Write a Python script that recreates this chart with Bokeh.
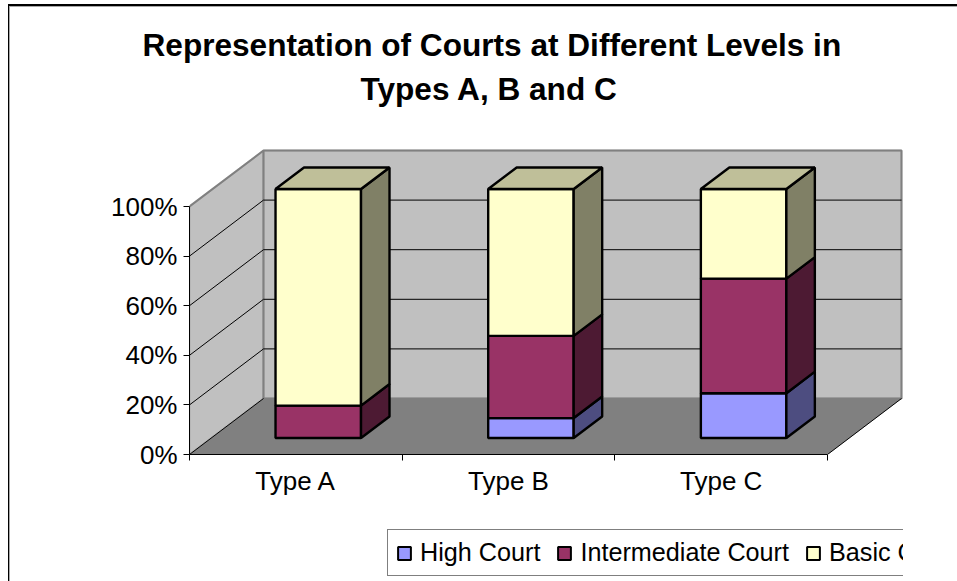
from bokeh.plotting import figure
from bokeh.layouts import column
from bokeh.embed import file_html
from bokeh.resources import INLINE
from bokeh.models import (Range1d, FixedTicker, PrintfTickFormatter, Legend, LegendItem,
                          PolyAnnotation, Title, LinearAxis)

# ---- data -----------------------------------------------------------------
categories = ["Type A", "Type B", "Type C"]
high_court = [0, 8, 18]
intermediate_court = [13, 33, 46]
basic_court = [87, 59, 36]
y_ticks = [0, 20, 40, 60, 80, 100]
title_line_1 = "Representation of Courts at Different Levels in"
title_line_2 = "Types A, B and C"

series_names = ["High Court", "Intermediate Court", "Basic Court"]
series_values = [high_court, intermediate_court, basic_court]
front_colors = ["#9999FF", "#993366", "#FFFFCC"]
side_colors = ["#4D4D80", "#4D1A33", "#808066"]
top_colors = ["#8080C0", "#733350", "#BFBF99"]

# ---- pseudo-3D geometry (in data units) ------------------------------------
PX_PER_CAT = 638 / 3
PX_PER_PCT = 248 / 100
DEPTH_X = 74 / PX_PER_CAT      # oblique shift of full depth, in categories
DEPTH_Y = 56 / PX_PER_PCT      # oblique shift of full depth, in percent
BAR_LEFT = 0.302               # bar start inside its category
BAR_WIDTH = 0.402
BAR_D0 = 16.5 / 56             # front of bar in depth fraction
BAR_D1 = BAR_D0 + 0.385        # back of bar
BAR_SCALE = 1.004
EDGE_PAD = 2                   # spare frame pixels so the wall outline is not clipped


def proj(c, v, d):
    return c + d * DEPTH_X, v + d * DEPTH_Y


def face(points):
    xy = [proj(*pt) for pt in points]
    return [a for a, _ in xy], [b for _, b in xy]


FONT = "Liberation Sans"
LABEL_SIZE = "26px"
BLACK = "#000000"

p = figure(frame_width=712 + EDGE_PAD, frame_height=304 + EDGE_PAD, output_backend="svg", toolbar_location=None,
           x_range=Range1d(0, 3 + DEPTH_X + EDGE_PAD / PX_PER_CAT),
           y_range=Range1d(0, 100 + DEPTH_Y + EDGE_PAD / PX_PER_PCT),
           min_border_left=189, min_border_right=56 - EDGE_PAD, min_border_top=150 - EDGE_PAD, min_border_bottom=50,
           background_fill_color="#FFFFFF", border_fill_color="#FFFFFF")
p.outline_line_color = None
p.grid.visible = False
p.xaxis.visible = False
p.yaxis.visible = False

# chart border: top and left only, as the chart runs off the page
p.stylesheets = [""":host{position:relative;overflow:visible}
:host::before{content:"";position:absolute;left:8px;top:4px;right:0;bottom:0;
border-top:2px solid #000;border-left:1.5px solid #000;box-shadow:inset 1px 1px 0 #A8A8A8;
pointer-events:none;z-index:5}"""]

# ---- walls and floor --------------------------------------------------------
n = len(categories)
wall_pts = [
    [(0, 0, 0), (0, 100, 0), (0, 100, 1), (0, 0, 1)],
    [(0, 0, 1), (0, 100, 1), (n, 100, 1), (n, 0, 1)],
]
for pts in wall_pts:
    xs, ys = face(pts)
    p.add_layout(PolyAnnotation(xs=xs, ys=ys, fill_color="#C0C0C0", fill_alpha=1,
                                line_color="#808080", line_width=2, level="underlay"))
xs, ys = face([(0, 0, 0), (n, 0, 0), (n, 0, 1), (0, 0, 1)])
p.add_layout(PolyAnnotation(xs=xs, ys=ys, fill_color="#808080", fill_alpha=1,
                            line_color="#808080", line_width=1, level="underlay"))

# gray wall outline
ox, oy = face([(0, 100, 0), (0, 100, 1), (n, 100, 1), (n, 0, 1), (0, 0, 1), (0, 100, 1)])
p.line(ox, oy, line_color="#808080", line_width=2)

# gridlines on the two walls
grid_x, grid_y = [], []
for t in y_ticks[1:-1]:
    gx, gy = face([(0, t, 0), (0, t, 1), (n, t, 1)])
    grid_x.append(gx)
    grid_y.append(gy)
p.multi_line(grid_x, grid_y, line_color=BLACK, line_width=1)

# black floor edges
edge_x, edge_y = [], []
for c in (0, n):
    ex, ey = face([(c, 0, 0), (c, 0, 1)])
    edge_x.append(ex)
    edge_y.append(ey)
p.multi_line(edge_x, edge_y, line_color=BLACK, line_width=1)

# ---- stacked 3-D bars -------------------------------------------------------
front_faces = []
for s, vals in enumerate(series_values):
    fx, fy, sx, sy, tx, ty = [], [], [], [], [], []
    for i, v in enumerate(vals):
        if v <= 0:
            continue
        base = sum(series_values[k][i] for k in range(s)) * BAR_SCALE
        top = base + v * BAR_SCALE
        x0 = i + BAR_LEFT
        x1 = x0 + BAR_WIDTH
        a, b = face([(x0, base, BAR_D0), (x1, base, BAR_D0), (x1, top, BAR_D0), (x0, top, BAR_D0)])
        fx.append(a); fy.append(b)
        a, b = face([(x1, base, BAR_D0), (x1, base, BAR_D1), (x1, top, BAR_D1), (x1, top, BAR_D0)])
        sx.append(a); sy.append(b)
        if s == len(series_values) - 1:
            a, b = face([(x0, top, BAR_D0), (x1, top, BAR_D0), (x1, top, BAR_D1), (x0, top, BAR_D1)])
            tx.append(a); ty.append(b)
    p.patches(fx, fy, fill_color=front_colors[s], line_color=BLACK, line_width=2.4)
    front_faces.append((fx, fy))
    p.patches(sx, sy, fill_color=side_colors[s], line_color=BLACK, line_width=2.4)
    if tx:
        p.patches(tx, ty, fill_color=top_colors[s], line_color=BLACK, line_width=2.4)

# ---- axes -------------------------------------------------------------------
yaxis = LinearAxis(ticker=FixedTicker(ticks=y_ticks), formatter=PrintfTickFormatter(format="%d%%"),
                   bounds=(0, 100), major_tick_in=0, major_tick_out=6, minor_tick_in=0, minor_tick_out=0,
                   major_label_standoff=6, major_label_text_font=FONT, major_label_text_font_size=LABEL_SIZE,
                   major_label_text_color=BLACK, axis_line_color=BLACK, major_tick_line_color=BLACK)
p.add_layout(yaxis, "left")

centers = [i + 0.5 for i in range(n)]
xaxis = LinearAxis(ticker=FixedTicker(ticks=centers, minor_ticks=list(range(n + 1))),
                   major_label_overrides={c: name for c, name in zip(centers, categories)},
                   bounds=(0, n), major_tick_in=0, major_tick_out=0, minor_tick_in=0, minor_tick_out=6,
                   major_label_standoff=5, major_label_text_font=FONT, major_label_text_font_size=LABEL_SIZE,
                   major_label_text_color=BLACK, axis_line_color=BLACK, minor_tick_line_color=BLACK)
p.add_layout(xaxis, "below")

# ---- titles -----------------------------------------------------------------
p.add_layout(Title(text=title_line_2, align="left", offset=171, standoff=84, text_font=FONT,
                   text_font_size="31.6px", text_font_style="bold", text_color=BLACK), "above")
p.add_layout(Title(text=title_line_1, align="left", offset=-47, standoff=-72, text_font=FONT,
                   text_font_size="31.6px", text_font_style="bold", text_color=BLACK), "above")

# ---- legend: a strip below the chart, its swatch renderers lie outside the view ----
leg = figure(width=957, height=77, output_backend="svg", toolbar_location=None,
             x_range=Range1d(1000, 1001), y_range=Range1d(1000, 1001),
             x_axis_location=None, y_axis_location=None,
             min_border=0, min_border_left=0, min_border_right=0, min_border_top=0, min_border_bottom=0,
             background_fill_color="#FFFFFF", border_fill_color="#FFFFFF")
leg.outline_line_color = None
leg.grid.visible = False
leg.stylesheets = [""":host{position:relative;overflow:visible}
:host::before{content:"";position:absolute;left:8px;top:0;right:0;bottom:0;
border-left:1.5px solid #000;box-shadow:inset 1px 0 0 #A8A8A8;
pointer-events:none;z-index:5}"""]
swatches = [leg.patches(fx, fy, fill_color=front_colors[s], line_color=BLACK, line_width=2)
            for s, (fx, fy) in enumerate(front_faces)]
legend = Legend(items=[LegendItem(label=nm, renderers=[r]) for nm, r in zip(series_names, swatches)],
                orientation="horizontal", location=(198, 5), margin=0, padding=8, spacing=16,
                glyph_width=16, glyph_height=16, label_standoff=8, label_text_font=FONT,
                label_text_font_size="25.2px", label_text_color=BLACK, border_line_color=BLACK,
                border_line_width=1, background_fill_color="#FFFFFF", background_fill_alpha=1)
leg.add_layout(legend, "center")

page = column(p, leg, spacing=0)
open("out.html", "w").write(file_html(page, INLINE))
